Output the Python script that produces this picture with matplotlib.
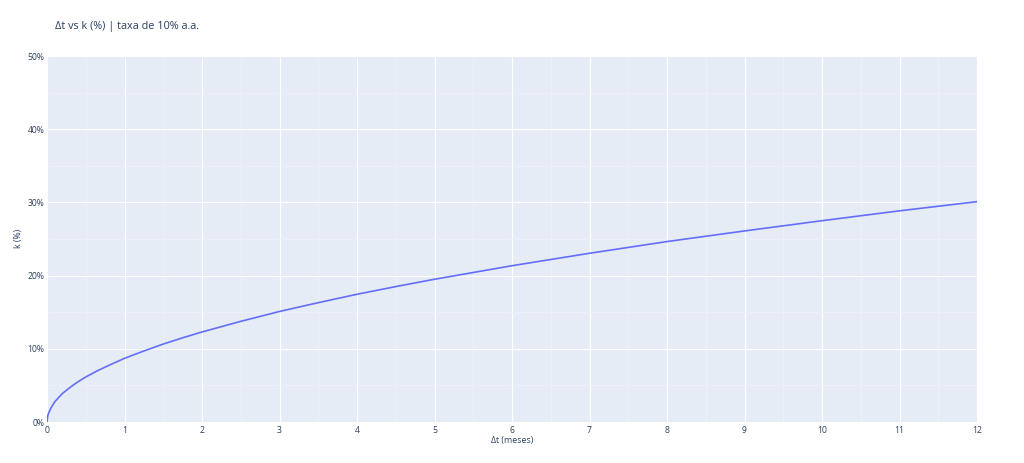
import matplotlib
matplotlib.use("Agg")
import matplotlib.pyplot as plt
from matplotlib.ticker import MultipleLocator, FuncFormatter

# Data
dt_meses = [0, 0.01, 0.02, 0.05, 0.1, 0.15, 0.2, 0.3, 0.4, 0.5, 0.65, 0.8, 1,
            1.25, 1.5, 1.75, 2, 2.5, 3, 3.5, 4, 4.5, 5, 6, 7, 8, 9, 10, 11, 12]
k_pct = [0, 0.85, 1.2, 1.9, 2.75, 3.35, 3.9, 4.75, 5.5, 6.15, 7.0, 7.75, 8.7,
         9.7, 10.65, 11.5, 12.3, 13.75, 15.1, 16.3, 17.45, 18.5, 19.5, 21.35,
         23.05, 24.65, 26.1, 27.5, 28.85, 30.1]
x_ticks = list(range(0, 13))
y_ticks = [0, 10, 20, 30, 40, 50]

title = "Δt vs k (%) | taxa de 10% a.a."
xlabel = "Δt (meses)"
ylabel = "k (%)"

plt.rcParams['font.family'] = ['Open Sans', 'DejaVu Sans']
text_color = "#2a3f5f"

fig = plt.figure(figsize=(10.24, 4.63), dpi=100)
W, H = 1024, 463
ax = fig.add_axes([47 / W, (H - 422) / H, (977 - 47) / W, (422 - 56) / H])
ax.set_facecolor("#E5ECF6")

ax.plot(dt_meses, k_pct, color="#636EFA", lw=1.2, solid_joinstyle="round", zorder=3)

ax.set_xlim(0, 12)
ax.set_ylim(0, 50)
ax.set_xticks(x_ticks)
ax.set_yticks(y_ticks)
ax.xaxis.set_minor_locator(MultipleLocator(0.5))
ax.yaxis.set_minor_locator(MultipleLocator(5))
ax.yaxis.set_major_formatter(FuncFormatter(lambda v, p: f"{int(v)}%"))

ax.grid(which="major", color="white", lw=0.8, zorder=1)
ax.grid(which="minor", color="#EEF2F9", lw=0.6, zorder=1)
ax.set_axisbelow(True)
for s in ax.spines.values():
    s.set_visible(False)

ax.tick_params(axis="both", which="both", length=0, labelsize=6.2, labelcolor=text_color)
ax.tick_params(axis="x", pad=3)
ax.tick_params(axis="y", pad=2)

fig.text(55 / W, 1 - 26 / H, title, fontsize=7.8, color=text_color, va="center", ha="left")
fig.text(512 / W, 1 - 441 / H, xlabel, fontsize=6.3, color=text_color, va="center", ha="center")
fig.text(18 / W, 1 - 238 / H, ylabel, fontsize=6.3, color=text_color, va="center", ha="center", rotation=90)

fig.savefig("out.png", dpi=100, facecolor="white")
